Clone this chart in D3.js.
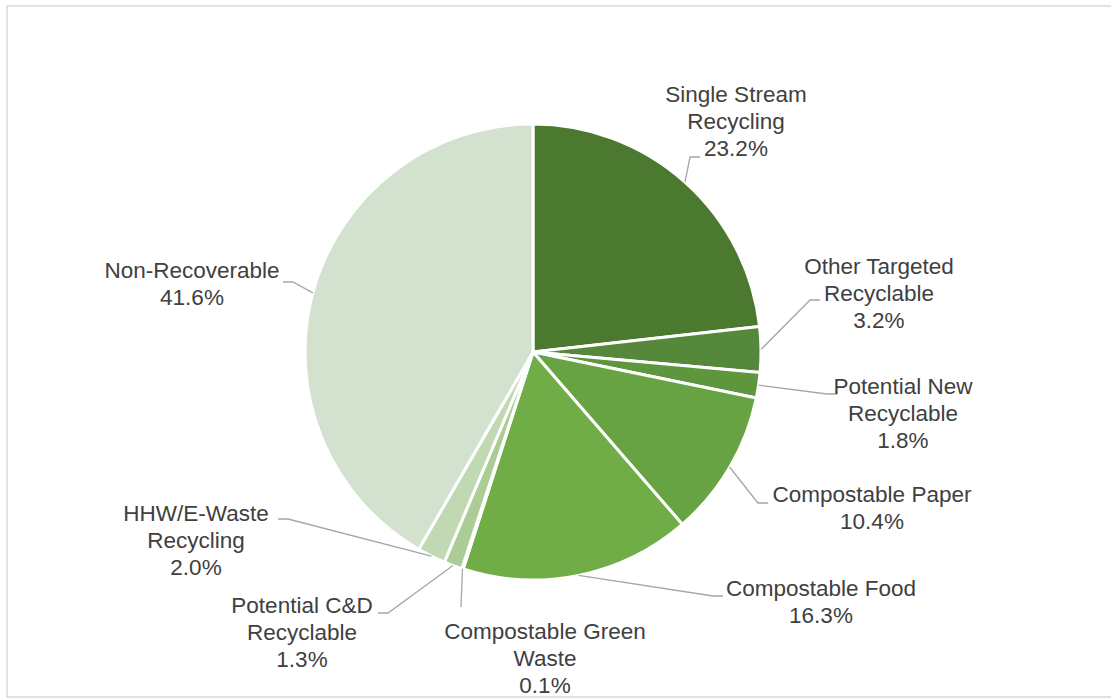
<!DOCTYPE html>
<html>
<head>
<meta charset='utf-8'>
<title>Waste composition pie</title>
<script src='https://d3js.org/d3.v7.min.js'></script>
<style>
  body {margin:0; background:#fff;}
  .lbl {font-family:'Liberation Sans', Arial, sans-serif; font-size:22.5px; fill:#404040;}
</style>
</head>
<body>
<svg id='chart'></svg>
<script>
  // data, clockwise from 12 o'clock
  var categories=['Single Stream Recycling','Other Targeted Recyclable','Potential New Recyclable',
                  'Compostable Paper','Compostable Food','Compostable Green Waste',
                  'Potential C&D Recyclable','HHW/E-Waste Recycling','Non-Recoverable'];
  var shares=[23.2,3.2,1.8,10.4,16.3,0.1,1.3,2.0,41.6];
  var labelLines=[['Single Stream','Recycling'],['Other Targeted','Recyclable'],['Potential New','Recyclable'],
                  ['Compostable Paper'],['Compostable Food'],['Compostable Green','Waste'],
                  ['Potential C&D','Recyclable'],['HHW/E-Waste','Recycling'],['Non-Recoverable']];
  var colors=['#4b7930','#55883a','#5e963e','#67a343','#70ad47','#8fbf6f','#abcd95','#c1d9b2','#d3e2cf'];

  // label placement relative to pie centre: text block centre (x,y), leader end (lx,ly), stub side
  var labelPos=[
    {x:203,y:-231,lx:167,ly:-195,side:1},
    {x:346,y:-59,lx:287,ly:-52,side:1},
    {x:370,y:61,lx:304,ly:42,side:1},
    {x:339,y:156,lx:235,ly:151,side:1},
    {x:288,y:250,lx:190,ly:244,side:1},
    {x:12,y:306,lx:-72,ly:255,side:0},
    {x:-231,y:280,lx:-155,ly:261,side:-1},
    {x:-337,y:188,lx:-255,ly:167,side:-1},
    {x:-341,y:-68,lx:-250,ly:-70,side:-1}];

  var W=1111,H=700,cx=533,cy=352,R=228,lineH=27;
  var svg=d3.select('#chart').attr('width',W).attr('height',H);

  svg.append('rect').attr('x',7).attr('y',6).attr('width',W).attr('height',691)
     .attr('fill','#fff').attr('stroke','#d9d9d9').attr('stroke-width',1.5);

  var data=categories.map(function(c,i){return {name:c,value:shares[i],i:i};});
  var pie=d3.pie().sort(null).value(function(d){return d.value;});
  var arc=d3.arc().innerRadius(0).outerRadius(R);
  var arcs=pie(data);

  var g=svg.append('g').attr('transform','translate('+cx+','+cy+')');
  g.selectAll('path.slice').data(arcs).enter().append('path')
   .attr('class','slice').attr('d',arc)
   .attr('fill',function(d){return colors[d.data.i];})
   .attr('stroke','#fff').attr('stroke-width',3).attr('stroke-linejoin','round');

  // leader lines
  g.selectAll('polyline').data(arcs).enter().append('polyline')
   .attr('points',function(d){
     var p=labelPos[d.data.i], a=(d.startAngle+d.endAngle)/2;
     var pts=[[Math.sin(a)*R,-Math.cos(a)*R]];
     if (p.side!==0) pts.push([p.lx-10*p.side,p.ly]);
     pts.push([p.lx,p.ly]);
     return pts.map(function(q){return q.join(',');}).join(' ');})
   .attr('fill','none').attr('stroke','#a6a6a6').attr('stroke-width',1.3);

  // labels
  var fmt=d3.format('.1f');
  arcs.forEach(function(d){
    var p=labelPos[d.data.i];
    var lines=labelLines[d.data.i].concat([fmt(d.data.value)+'%']);
    var y0=p.y-(lines.length-1)*lineH/2;
    var t=g.append('text').attr('class','lbl').attr('text-anchor','middle');
    lines.forEach(function(s,k){
      t.append('tspan').attr('x',p.x).attr('y',y0+k*lineH).attr('dy','0.35em').text(s);});
  });
</script>
</body>
</html>
